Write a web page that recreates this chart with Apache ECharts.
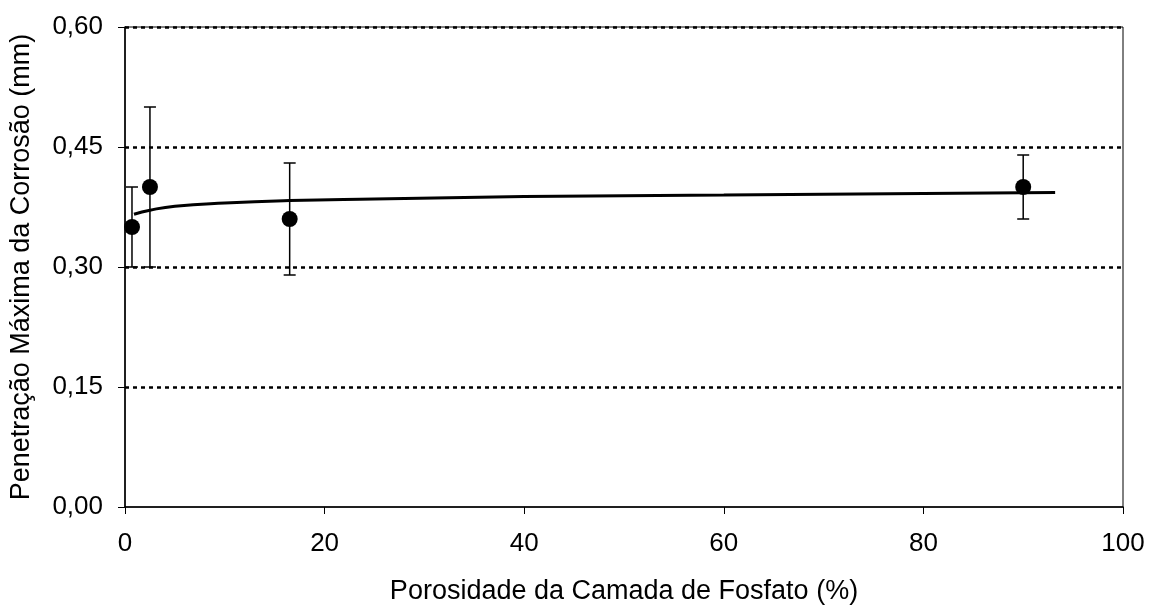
<!DOCTYPE html>
<html>
<head>
<meta charset="utf-8">
<script src="https://cdn.jsdelivr.net/npm/echarts@6/dist/echarts.min.js"></script>
<style>
  html, body { margin: 0; padding: 0; background: #fff; }
  #chart { width: 1150px; height: 606px; }
</style>
</head>
<body>
<div id="chart"></div>
<script>
// Measured points: porosity (%) and maximum corrosion penetration (mm)
const porosity = [0.7, 2.5, 16.5, 90];
const penetration = [0.35, 0.40, 0.36, 0.40];
const errLow = [0.30, 0.30, 0.29, 0.36];
const errHigh = [0.40, 0.50, 0.43, 0.44];

// Trend curve through the data
const trendX = [0.9, 2.5, 5, 10, 16.5, 25, 40, 60, 80, 93.2];
const trendY = [0.366, 0.371, 0.376, 0.380, 0.383, 0.385, 0.388, 0.390, 0.392, 0.393];

const xTicks = [0, 20, 40, 60, 80, 100];
const yTicks = [0, 0.15, 0.30, 0.45, 0.60];

const FONT = 'Liberation Sans, Arial, sans-serif';

const chart = echarts.init(document.getElementById('chart'), null, { renderer: 'canvas' });

const points = porosity.map((x, i) => [x, penetration[i]]);
const bars = porosity.map((x, i) => [x, errLow[i], errHigh[i]]);
const trend = trendX.map((x, i) => [x, trendY[i]]);

chart.setOption({
  animation: false,
  backgroundColor: '#fff',
  grid: {
    left: 125, right: 27, top: 27, bottom: 99,
    outerBoundsMode: 'none', containLabel: false,
    show: true, borderColor: '#000', borderWidth: 1, backgroundColor: 'transparent'
  },
  xAxis: {
    type: 'value', min: xTicks[0], max: xTicks[xTicks.length - 1], interval: 20,
    name: 'Porosidade da Camada de Fosfato (%)',
    nameLocation: 'middle', nameGap: 71,
    nameTextStyle: { fontFamily: FONT, fontSize: 27, color: '#000' },
    axisLine: { show: true, onZero: false, lineStyle: { color: '#000', width: 1.5 } },
    axisTick: { show: true, inside: false, length: 7, lineStyle: { color: '#000', width: 1 } },
    axisLabel: { margin: 24, fontFamily: FONT, fontSize: 26, color: '#000' },
    splitLine: { show: false }
  },
  yAxis: {
    type: 'value', min: yTicks[0], max: yTicks[yTicks.length - 1], interval: 0.15,
    name: 'Penetração Máxima da Corrosão (mm)',
    nameLocation: 'middle', nameGap: 90,
    nameTextStyle: { fontFamily: FONT, fontSize: 27, color: '#000' },
    axisLine: { show: true, onZero: false, lineStyle: { color: '#000', width: 1.5 } },
    axisTick: { show: true, inside: false, length: 7, lineStyle: { color: '#000', width: 1 } },
    axisLabel: {
      margin: 22, fontFamily: FONT, fontSize: 26, color: '#000',
      formatter: v => v.toFixed(2).replace('.', ',')
    },
    splitLine: {
      show: true, showMinLine: false,
      lineStyle: { color: '#000', width: 2.5, type: [4, 4] }
    }
  },
  series: [
    {
      type: 'line', data: trend, smooth: true, showSymbol: false, symbol: 'none',
      lineStyle: { color: '#000', width: 3 }, z: 3
    },
    {
      type: 'custom', z: 4,
      data: bars,
      renderItem: function (params, api) {
        const x = api.value(0);
        const lo = api.coord([x, api.value(1)]);
        const hi = api.coord([x, api.value(2)]);
        const cap = 6;
        const style = { stroke: '#000', lineWidth: 1.5, fill: null };
        return {
          type: 'group',
          children: [
            { type: 'line', shape: { x1: lo[0], y1: lo[1], x2: hi[0], y2: hi[1] }, style },
            { type: 'line', shape: { x1: hi[0] - cap, y1: hi[1], x2: hi[0] + cap, y2: hi[1] }, style },
            { type: 'line', shape: { x1: lo[0] - cap, y1: lo[1], x2: lo[0] + cap, y2: lo[1] }, style }
          ]
        };
      }
    },
    {
      type: 'scatter', data: points, symbol: 'circle', symbolSize: 16,
      itemStyle: { color: '#000', opacity: 1 }, z: 5
    }
  ]
});
</script>
</body>
</html>
